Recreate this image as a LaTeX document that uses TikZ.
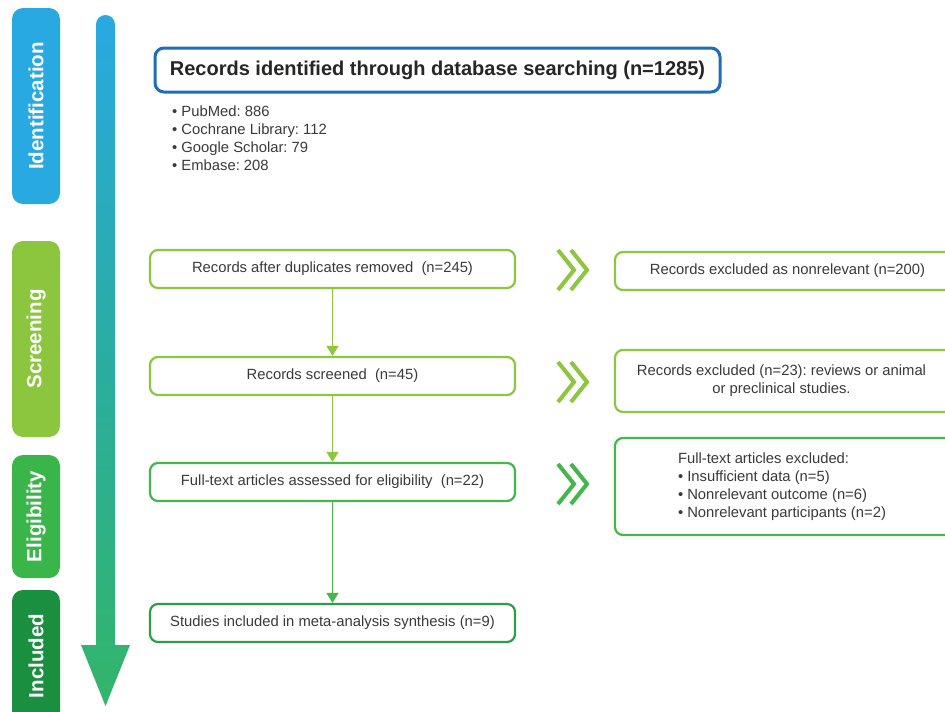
\documentclass[tikz,border=0pt]{standalone}
\usepackage{fontspec}
\setmainfont{Liberation Sans}
\usetikzlibrary{arrows.meta}
\frenchspacing
\definecolor{idblue}{HTML}{29A9E1}
\definecolor{scrgreen}{HTML}{8CC63F}
\definecolor{eligreen}{HTML}{3AB54A}
\definecolor{incgreen}{HTML}{198F3F}
\definecolor{boxblue}{HTML}{1F6DBA}
\definecolor{lgreen}{HTML}{8DC63F}
\definecolor{mgreen}{HTML}{45B64A}
\definecolor{dgreen}{HTML}{2E9E45}
\definecolor{txt}{HTML}{3A3A3A}
\definecolor{arrtop}{HTML}{29A9E1}
\definecolor{arrmid}{HTML}{2AADA0}
\definecolor{arrbot}{HTML}{33B56A}
\tikzset{
  phase/.style={rounded corners=11pt, draw=none, text=white, font=\fontsize{20.5}{24}\selectfont\bfseries, rotate=90, minimum height=48pt, inner sep=0pt},
  flowbox/.style={draw, rounded corners=8pt, line width=2.2pt, fill=white, text=txt, font=\fontsize{14.8}{18}\selectfont, minimum width=365pt, minimum height=38pt, inner sep=2pt},
  exbox/.style={draw, rounded corners=8pt, line width=2.2pt, fill=white, text=txt, font=\fontsize{14.8}{18}\selectfont, minimum width=345pt, inner sep=2pt},
  flowarr/.style={line width=1pt, -{Triangle[width=12pt,length=10pt]}},
  chev/.style={line width=4pt, miter limit=10}
}
\begin{document}
\begin{tikzpicture}[x=1pt,y=-1pt]
\useasboundingbox[fill=white] (0,0) rectangle (945,712);

% phase bars
\node[phase, fill=idblue, minimum width=196pt] (pid) at (36,106) {Identification};
\node[phase, fill=scrgreen, minimum width=196pt] (pscr) at (36,339) {Screening};
\node[phase, fill=eligreen, minimum width=123pt] (peli) at (36,516.5) {Eligibility};
\node[phase, fill=incgreen, minimum width=132pt] (pinc) at (36,656) {Included};

% big gradient arrow
\shade[top color=arrtop, bottom color=arrbot, middle color=arrmid]
  (96,645) [rounded corners=9.5pt] -- (96,15) -- (115,15) [sharp corners] -- (115,645)
  -- (130,645) -- (105.5,706) -- (81,645) -- cycle;

% top box
\node[draw=boxblue, line width=3pt, rounded corners=9pt, fill=white, minimum width=565pt, minimum height=44pt, text=black!85, font=\fontsize{20}{24}\selectfont\bfseries] (top) at (437.5,70) {Records identified through database searching (n=1285)};
\node[anchor=north west, align=left, text=txt, font=\fontsize{14.8}{18}\selectfont, inner sep=0pt] (list) at (172,105.5)
  {\textbullet\ PubMed: 886\\
   \textbullet\ Cochrane Library: 112\\
   \textbullet\ Google Scholar: 79\\
   \textbullet\ Embase: 208};

% left column
\node[flowbox, draw=lgreen] (b1) at (332.5,269) {Records after duplicates removed\ \ (n=245)};
\node[flowbox, draw=lgreen] (b2) at (332.5,376) {Records screened\ \ (n=45)};
\node[flowbox, draw=mgreen] (b3) at (332.5,482) {Full-text articles assessed for eligibility\ \ (n=22)};
\node[flowbox, draw=dgreen] (b4) at (332.5,623) {Studies included in meta-analysis synthesis (n=9)};

\draw[flowarr, lgreen] (b1) -- (b2);
\draw[flowarr, lgreen] (b2) -- (b3);
\draw[flowarr, mgreen] (b3) -- (b4);

% right column
\node[exbox, draw=lgreen, minimum height=38pt] (e1) at (787.5,271) {Records excluded as nonrelevant (n=200)};
\node[exbox, draw=lgreen, minimum height=62pt, align=center] (e2) at (787.5,381) {Records excluded (n=23): reviews or animal\hspace*{12pt}\\or preclinical studies.\hspace*{12pt}};
\node[exbox, draw=mgreen, minimum height=97pt, align=left] (e3) at (787.5,486.5)
  {\hspace*{-11pt}Full-text articles excluded:\\
   \hspace*{-11pt}\textbullet\ Insufficient data (n=5)\\
   \hspace*{-11pt}\textbullet\ Nonrelevant outcome (n=6)\\
   \hspace*{-11pt}\textbullet\ Nonrelevant participants (n=2)};

% chevrons
\foreach \cy/\cc in {270/lgreen, 382/lgreen, 484/mgreen}{
  \draw[chev, \cc] (558,\cy-20) -- (574,\cy) -- (558,\cy+20);
  \draw[chev, \cc] (571,\cy-20) -- (587,\cy) -- (571,\cy+20);
}
\end{tikzpicture}
\end{document}
